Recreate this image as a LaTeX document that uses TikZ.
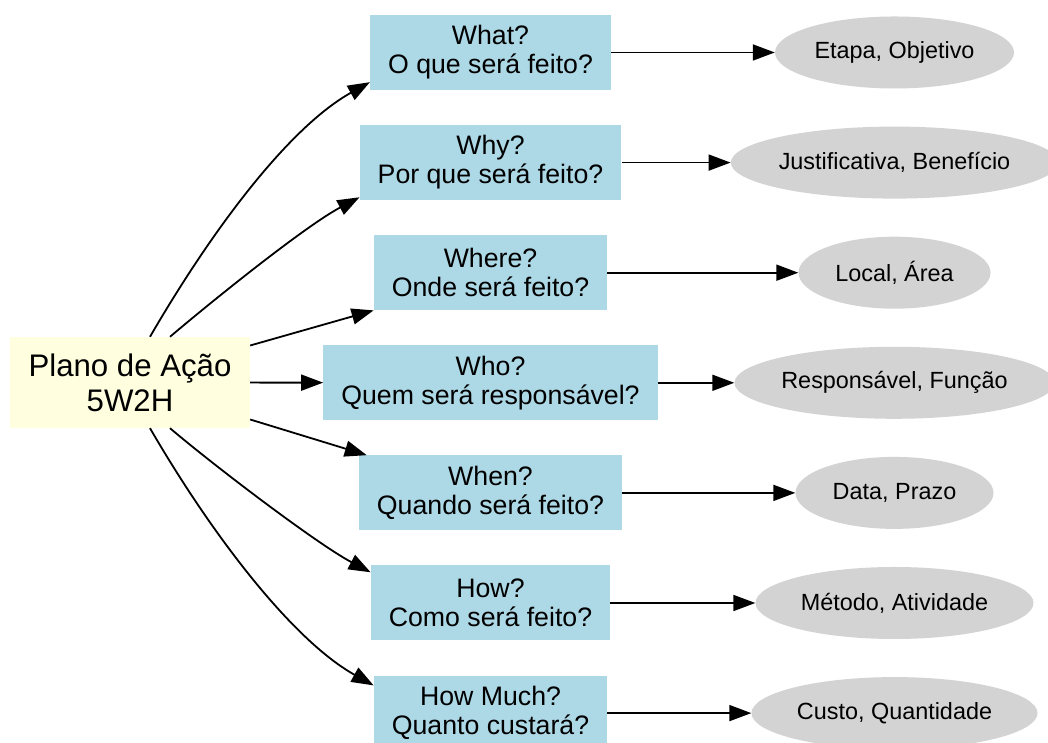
\documentclass[tikz,border=0pt]{standalone}
\usepackage{fontspec}
\setmainfont{Liberation Sans}
\usepackage{tikz}
\usetikzlibrary{arrows.meta,positioning,shapes.geometric}

\definecolor{planyellow}{HTML}{FFFFE0}
\definecolor{askblue}{HTML}{ADD8E6}
\definecolor{answergray}{HTML}{D3D3D3}

\begin{document}
\begin{tikzpicture}[
  x=1pt, y=1pt,
  node distance=34.7pt and 14mm,
  rootbox/.style={
    fill=planyellow,
    align=center,
    minimum width=240pt,
    minimum height=91pt,
    inner sep=0pt,
    font=\fontsize{31.2}{35}\selectfont
  },
  box/.style={
    fill=askblue,
    align=center,
    inner xsep=18pt,
    inner ysep=0pt,
    minimum height=75pt,
    font=\fontsize{26.7}{29}\selectfont
  },
  oval/.style={
    ellipse,
    fill=answergray,
    inner sep=0pt,
    minimum height=72pt,
    font=\fontsize{23.4}{26}\selectfont
  },
  arrow/.style={-{Triangle[length=22pt, width=16pt]}, line width=1.8pt}
]
\useasboundingbox (0,0) rectangle (1048,743);

\node[rootbox] (plan) at (130,360.5) {Plano de Ação\\5W2H};

\node[box] (what) at (490.5,690.5) {What?\\O que será feito?};
\node[box, below=of what] (why) {Why?\\Por que será feito?};
\node[box, below=of why] (where) {Where?\\Onde será feito?};
\node[box, below=of where] (who) {Who?\\Quem será responsável?};
\node[box, below=of who] (when) {When?\\Quando será feito?};
\node[box, below=of when] (how) {How?\\Como será feito?};
\node[box, below=of how] (howmuch) {How Much?\\Quanto custará?};

\coordinate (col) at (894.5,0);
\node[oval, minimum width=239pt] (objetivo) at (col |- what) {Etapa, Objetivo};
\node[oval, minimum width=323pt] (beneficio) at (col |- why) {Justificativa, Benefício};
\node[oval, minimum width=192pt] (area) at (col |- where) {Local, Área};
\node[oval, minimum width=318pt] (funcao) at (col |- who) {Responsável, Função};
\node[oval, minimum width=198pt] (prazo) at (col |- when) {Data, Prazo};
\node[oval, minimum width=278pt] (atividade) at (col |- how) {Método, Atividade};
\node[oval, minimum width=286pt] (quantidade) at (col |- howmuch) {Custo, Quantidade};

% plano -> perguntas
\draw[arrow] ([xshift=20pt]plan.north) .. controls +(65,112) and +(-79,-44) .. ([yshift=8pt]what.south west);
\draw[arrow] ([xshift=40pt]plan.north) .. controls +(46,39) and +(-53,-28) .. ([yshift=3pt]why.south west);
\draw[arrow] ([yshift=37pt]plan.east) -- (where.south west);
\draw[arrow] (plan) -- (who);
\draw[arrow] ([yshift=-37pt]plan.east) -- ([xshift=8pt]when.north west);
\draw[arrow] ([xshift=40pt]plan.south) .. controls +(46,-39) and +(-53,28) .. ([yshift=-7pt]how.north west);
\draw[arrow] ([xshift=20pt]plan.south) .. controls +(65,-112) and +(-79,44) .. ([yshift=-10pt]howmuch.north west);

% perguntas -> respostas
\draw[arrow] (what) -- (objetivo);
\draw[arrow] (why) -- (beneficio);
\draw[arrow] (where) -- (area);
\draw[arrow] (who) -- (funcao);
\draw[arrow] (when) -- (prazo);
\draw[arrow] (how) -- (atividade);
\draw[arrow] (howmuch) -- (quantidade);
\end{tikzpicture}
\end{document}
